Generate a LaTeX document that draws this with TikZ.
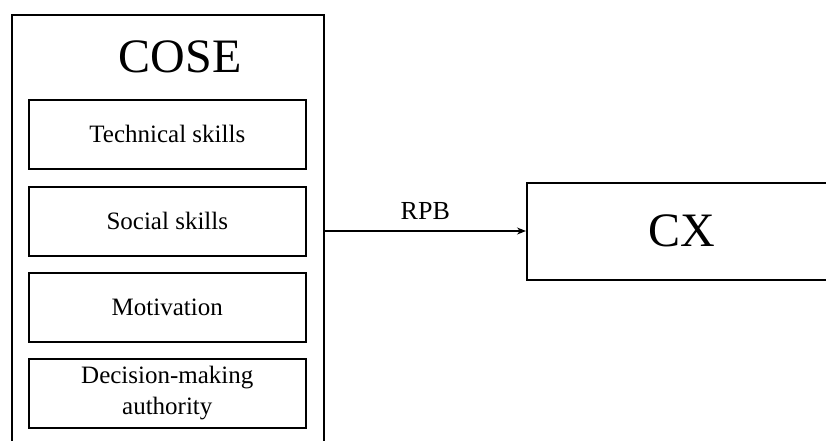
\documentclass[tikz,border=0pt]{standalone}
\usepackage{fontspec}
\setmainfont{Liberation Serif}
\usetikzlibrary{arrows.meta}
\begin{document}
\begin{tikzpicture}[x=1pt,y=-1pt,
  box/.style={draw=black,line width=1.6pt,inner sep=0pt,anchor=north west},
  item/.style={box,minimum width=277pt,minimum height=69pt,font=\fontsize{25}{31}\selectfont,align=center},
  big/.style={font=\fontsize{48}{52}\selectfont},
  link/.style={line width=1.3pt,-{Stealth[length=9pt,width=7pt]}}]
\useasboundingbox (0,0) rectangle (826,440);
% outer frame, runs past the lower edge
\node[box,minimum width=312pt,minimum height=450pt] (cose) at (11,14) {};
\node[big] (title) at (180,57) {COSE};
\node[item] (tech) at (28,99)  {Technical skills};
\node[item] (soc)  at (28,186) {Social skills};
\node[item] (mot)  at (28,272) {Motivation};
\node[item] (dec)  at (28,358) {Decision-making\\authority};
% outcome box, runs past the right edge
\node[box,big,minimum width=310pt,minimum height=97pt] (cx) at (526,182) {CX};
\coordinate (start) at (cose.east |- 0,231);
\draw[link] (start) -- (cx.west |- start) node[midway,above=7pt,font=\fontsize{26}{29}\selectfont] (rpb) {RPB};
\end{tikzpicture}
\end{document}
